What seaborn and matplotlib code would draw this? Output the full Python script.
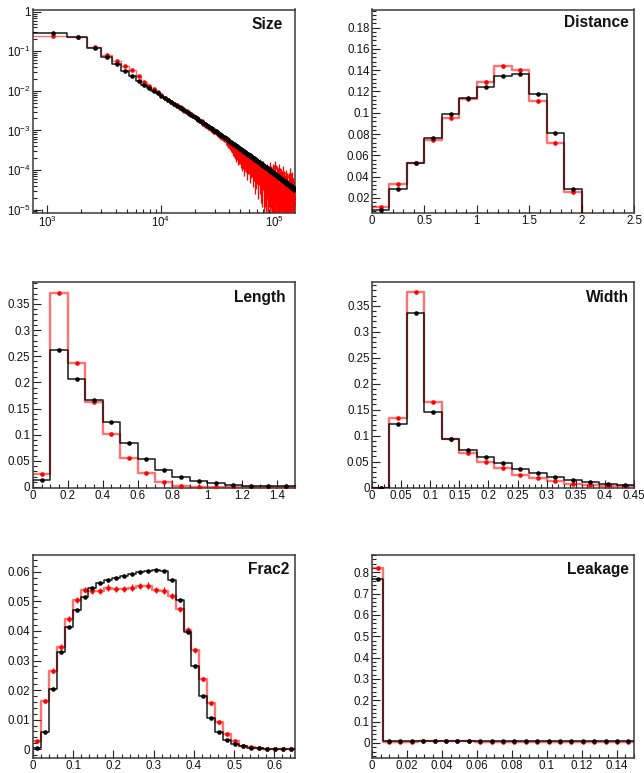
import numpy as np
import pandas as pd
import matplotlib
matplotlib.use("Agg")
import matplotlib.pyplot as plt
import matplotlib.ticker as mticker
import seaborn as sns

# ------------------------------------------------------------------
# DATA  (normalised bin contents)
# ------------------------------------------------------------------
# Size: 199 bins of width 750 starting at 750 (values in units of 1e-6)
SIZE_LOW, SIZE_BIN = 750.0, 750.0
size_black_ppm = [
    292000, 226000, 119000, 70500, 46900, 32400, 23500, 17700, 14300, 12000,
    10200, 8770, 7620, 6690, 5920, 5270, 4730, 4260, 3860, 3520,
    3210, 2950, 2720, 2510, 2320, 2160, 2010, 1880, 1750, 1640,
    1540, 1450, 1370, 1290, 1220, 1160, 1100, 1040, 990, 942,
    898, 856, 818, 781, 747, 716, 685, 657, 631, 606,
    582, 560, 539, 519, 501, 483, 466, 450, 435, 420,
    406, 393, 381, 368, 357, 346, 336, 326, 316, 307,
    298, 289, 281, 274, 266, 259, 252, 245, 239, 233,
    227, 221, 216, 210, 205, 200, 196, 191, 187, 182,
    178, 174, 170, 166, 163, 159, 156, 152, 149, 146,
    143, 140, 137, 134, 132, 129, 127, 124, 122, 119,
    117, 115, 113, 111, 109, 107, 105, 103, 101, 99.2,
    97.4, 95.7, 94.1, 92.5, 90.9, 89.4, 87.9, 86.4, 85.0, 83.6,
    82.2, 80.9, 79.6, 78.3, 77.0, 75.8, 74.6, 73.5, 72.4, 71.3,
    70.2, 69.1, 68.1, 67.1, 66.1, 65.1, 64.1, 63.2, 62.3, 61.4,
    60.5, 59.6, 58.8, 57.9, 57.1, 56.3, 55.6, 54.8, 54.1, 53.3,
    52.6, 51.9, 51.2, 50.5, 49.8, 49.2, 48.6, 47.9, 47.3, 46.7,
    46.1, 45.5, 44.9, 44.4, 43.8, 43.3, 42.7, 42.2, 41.7, 41.2,
    40.7, 40.2, 39.7, 39.3, 38.8, 38.3, 37.9, 37.4, 37.0, 36.6,
    36.2, 35.7, 35.3, 34.9, 34.5, 34.1, 33.8, 33.4, 33.0,
]
size_red_ppm = [
    250000, 225000, 126000, 82400, 58200, 43400, 33900, 24300, 17100, 13500,
    11200, 9300, 7700, 6750, 5850, 5380, 4650, 4330, 3790, 3580,
    3150, 3010, 2650, 2560, 2270, 2190, 1950, 1910, 1700, 1680,
    1490, 1470, 1310, 1330, 1170, 1150, 1040, 1070, 930, 960,
    850, 880, 760, 800, 690, 730, 610, 640, 560, 590,
    520, 450, 500, 400, 380, 430, 300, 370, 260, 330,
    230, 300, 200, 270, 210, 290, 170, 240, 150, 250,
    180, 120, 210, 140, 230, 100, 170, 130, 190, 90,
    150, 200, 110, 130, 75, 160, 95, 130, 60, 110,
    160, 70, 100, 130, 50, 85, 120, 60, 140, 45,
    90, 40, 110, 55, 75, 120, 35, 65, 95, 40,
    25, 80, 50, 100, 0, 60, 30, 85, 40, 55,
    20, 110, 0, 40, 75, 12, 50, 0, 95, 30,
    18, 65, 0, 40, 120, 10, 55, 0, 25, 80,
    15, 0, 45, 30, 100, 0, 20, 60, 12, 0,
    38, 70, 0, 15, 45, 25, 0, 85, 10, 30,
    0, 55, 18, 0, 40, 12, 65, 0, 22, 35,
    0, 14, 50, 0, 28, 10, 0, 45, 16, 0,
    30, 75, 0, 12, 25, 0, 40, 18, 0, 55,
    10, 0, 22, 35, 0, 15, 28, 0, 20,
]

DIST_RANGE = (0.0, 2.5)
dist_black = [0.0085, 0.0287, 0.0524, 0.0762, 0.0989, 0.1139, 0.1242, 0.1342,
              0.1364, 0.1180, 0.0812, 0.0281, 0.0, 0.0, 0.0]
dist_red = [0.0110, 0.0328, 0.0531, 0.0746, 0.0952, 0.1130, 0.1289, 0.1436,
            0.1400, 0.1110, 0.0718, 0.0256, 0.0, 0.0, 0.0]

LENGTH_RANGE = (0.0, 1.5)
length_black = [0.0134, 0.2628, 0.2066, 0.1665, 0.1250, 0.0848, 0.0529, 0.0319,
                0.0191, 0.0115, 0.0070, 0.0045, 0.0026, 0.0020, 0.0010]
length_red = [0.0255, 0.3710, 0.2366, 0.1620, 0.1014, 0.0561, 0.0274, 0.0102,
              0.0026, 0.0008, 0.0003, 0.0001, 0.0, 0.0, 0.0]

WIDTH_RANGE = (0.0, 0.45)
width_black = [0.0, 0.1223, 0.3363, 0.1449, 0.0938, 0.0724, 0.0582, 0.0466,
               0.0356, 0.0272, 0.0201, 0.0142, 0.0097, 0.0065, 0.0045]
width_red = [0.0, 0.1339, 0.3765, 0.1650, 0.0938, 0.0660, 0.0492, 0.0369,
             0.0246, 0.0175, 0.0116, 0.0071, 0.0052, 0.0032, 0.0020]

FRAC2_RANGE = (0.0, 0.65)
frac2_black = [0.0005, 0.0059, 0.0204, 0.0330, 0.0414, 0.0471, 0.0515, 0.0544,
               0.0561, 0.0574, 0.0581, 0.0587, 0.0593, 0.0599, 0.0602, 0.0608,
               0.0603, 0.0572, 0.0504, 0.0395, 0.0281, 0.0181, 0.0107, 0.0059,
               0.0031, 0.0017, 0.0009, 0.0005, 0.0003, 0.0002, 0.0001, 0.0001,
               0.0001]
frac2_red = [0.0028, 0.0163, 0.0266, 0.0347, 0.0440, 0.0504, 0.0538, 0.0536,
             0.0536, 0.0547, 0.0541, 0.0542, 0.0547, 0.0552, 0.0554, 0.0538,
             0.0537, 0.0519, 0.0473, 0.0405, 0.0335, 0.0237, 0.0155, 0.0091,
             0.0052, 0.0026, 0.0012, 0.0006, 0.0003, 0.0002, 0.0001, 0.0001,
             0.0]

LEAK_RANGE = (0.0, 0.15)
leak_black = [0.770, 0.0072, 0.0074, 0.0076, 0.0077, 0.0078, 0.0078, 0.0079,
              0.0078, 0.0078, 0.0077, 0.0077, 0.0076, 0.0076, 0.0075, 0.0075,
              0.0074, 0.0074, 0.0073, 0.0073, 0.0072, 0.0072, 0.0071]
leak_red = [0.818, 0.0066, 0.0068, 0.0069, 0.0070, 0.0070, 0.0071, 0.0070,
            0.0070, 0.0069, 0.0069, 0.0068, 0.0068, 0.0067, 0.0067, 0.0066,
            0.0066, 0.0065, 0.0065, 0.0064, 0.0064, 0.0063, 0.0063]

# effective event counts used for the Poisson error bars
N_BLACK = 1.0e6
N_RED = 5.0e4

# ------------------------------------------------------------------
# STYLE
# ------------------------------------------------------------------
sns.set_theme(style="ticks")
plt.rcParams["font.family"] = ["Liberation Sans", "DejaVu Sans"]
plt.rcParams["mathtext.fontset"] = "custom"
plt.rcParams["mathtext.rm"] = "Liberation Sans"
plt.rcParams["mathtext.it"] = "Liberation Sans:italic"
plt.rcParams["mathtext.bf"] = "Liberation Sans:bold"
plt.rcParams["axes.facecolor"] = "white"
plt.rcParams["figure.facecolor"] = "white"

W, H = 644.0, 773.0
fig = plt.figure(figsize=(W / 100, H / 100), dpi=100)

COL_LEFT = [33.0, 372.0]
COL_RIGHT = [294.5, 634.0]
ROW_TOP = [9.5, 281.5, 554.5]
ROW_BOT = [212.5, 487.5, 758.0]


def make_ax(r, c):
    x0 = COL_LEFT[c] / W
    w = (COL_RIGHT[c] - COL_LEFT[c]) / W
    y0 = 1 - ROW_BOT[r] / H
    h = (ROW_BOT[r] - ROW_TOP[r]) / H
    return fig.add_axes([x0, y0, w, h])


def lin_fmt(v, pos):
    v = round(v, 6)
    if abs(v) < 1e-9:
        return "0"
    return f"{v:g}"


def log_fmt(v, pos):
    e = int(round(np.log10(v)))
    return "1" if e == 0 else rf"$10^{{{e}}}$"


def draw_hists(ax, edges, black, red, logy=False, red_lw=1.7):
    edges = np.asarray(edges, float)
    centers = 0.5 * (edges[:-1] + edges[1:])
    series = [
        (np.asarray(red, float), "#ff0000", N_RED, red_lw, 0.55, 2),
        (np.asarray(black, float), "#000000", N_BLACK, 1.1, 0.9, 3),
    ]
    for vals, color, nev, lw, alpha, z in series:
        df = pd.DataFrame({"x": centers, "w": vals})
        sns.histplot(data=df, x="x", weights="w", bins=edges.tolist(),
                     element="step", fill=False, color=color, linewidth=lw,
                     alpha=alpha, ax=ax, zorder=z)
        err = np.sqrt(vals / nev)
        m = vals > 0 if logy else np.ones(len(vals), bool)
        ax.errorbar(centers[m], vals[m], yerr=err[m], fmt="o", ms=3.3,
                    color=color, ecolor=color, elinewidth=0.9, capsize=0,
                    mew=0, zorder=z + 0.5)


def style_ax(ax, title, tpos):
    for sp in ax.spines.values():
        sp.set_color("#3a3a3a")
        sp.set_linewidth(1.1)
    ax.tick_params(which="both", direction="in", top=False, right=False,
                   labelsize=8.3, width=0.8, color="#222222",
                   labelcolor="#111111")
    ax.tick_params(which="major", length=5.8)
    ax.tick_params(which="minor", length=2.9)
    ax.tick_params(axis="x", pad=1.5)
    ax.tick_params(axis="y", pad=1.8)
    ax.set_xlabel("")
    ax.set_ylabel("")
    ax.grid(False)
    ax.text(tpos[0], tpos[1], title, transform=ax.transAxes, ha="right",
            va="center", fontsize=11.2, fontweight="bold", color="#111111")


def linear_ticks(ax, xmaj, xmin, ymaj, ymin):
    ax.xaxis.set_major_locator(mticker.MultipleLocator(xmaj))
    ax.xaxis.set_minor_locator(mticker.MultipleLocator(xmin))
    ax.yaxis.set_major_locator(mticker.MultipleLocator(ymaj))
    ax.yaxis.set_minor_locator(mticker.MultipleLocator(ymin))
    ax.xaxis.set_major_formatter(mticker.FuncFormatter(lin_fmt))
    ax.yaxis.set_major_formatter(mticker.FuncFormatter(lin_fmt))


# ---------------- Size (log-log) ----------------
ax = make_ax(0, 0)
size_edges = SIZE_LOW + SIZE_BIN * np.arange(len(size_black_ppm) + 1)
assert len(size_black_ppm) == len(size_red_ppm)
draw_hists(ax, size_edges, np.asarray(size_black_ppm) * 1e-6,
           np.asarray(size_red_ppm) * 1e-6, logy=True, red_lw=1.0)
ax.set_xscale("log")
ax.set_yscale("log")
ax.set_xlim(750, 150000)
ax.set_ylim(8.4e-6, 1.14)
for axis in (ax.xaxis, ax.yaxis):
    axis.set_major_locator(mticker.LogLocator(base=10, numticks=30))
    axis.set_minor_locator(mticker.LogLocator(base=10, subs=np.arange(2, 10), numticks=30))
    axis.set_major_formatter(mticker.FuncFormatter(log_fmt))
    axis.set_minor_formatter(mticker.NullFormatter())
style_ax(ax, "Size", (0.955, 0.924))

# ---------------- Distance ----------------
ax = make_ax(0, 1)
draw_hists(ax, np.linspace(*DIST_RANGE, len(dist_black) + 1), dist_black, dist_red)
ax.set_xlim(*DIST_RANGE)
ax.set_ylim(0.0063, 0.197)
linear_ticks(ax, 0.5, 0.1, 0.02, 0.004)
style_ax(ax, "Distance", (0.980, 0.935))

# ---------------- Length ----------------
ax = make_ax(1, 0)
draw_hists(ax, np.linspace(*LENGTH_RANGE, len(length_black) + 1), length_black, length_red)
ax.set_xlim(*LENGTH_RANGE)
ax.set_ylim(-0.001, 0.393)
linear_ticks(ax, 0.2, 0.05, 0.05, 0.01)
style_ax(ax, "Length", (0.9675, 0.920))

# ---------------- Width ----------------
ax = make_ax(1, 1)
draw_hists(ax, np.linspace(*WIDTH_RANGE, len(width_black) + 1), width_black, width_red)
ax.set_xlim(*WIDTH_RANGE)
ax.set_ylim(0.0, 0.397)
linear_ticks(ax, 0.05, 0.01, 0.05, 0.01)
style_ax(ax, "Width", (0.982, 0.923))

# ---------------- Frac2 ----------------
ax = make_ax(2, 0)
draw_hists(ax, np.linspace(*FRAC2_RANGE, len(frac2_black) + 1), frac2_black, frac2_red)
ax.set_xlim(*FRAC2_RANGE)
ax.set_ylim(-0.003, 0.0659)
linear_ticks(ax, 0.1, 0.02, 0.01, 0.002)
style_ax(ax, "Frac2", (0.980, 0.927))

# ---------------- Leakage ----------------
ax = make_ax(2, 1)
draw_hists(ax, np.linspace(*LEAK_RANGE, len(leak_black) + 1), leak_black, leak_red)
ax.set_xlim(*LEAK_RANGE)
ax.set_ylim(-0.0703, 0.883)
linear_ticks(ax, 0.02, 0.005, 0.1, 0.02)
style_ax(ax, "Leakage", (0.982, 0.927))

fig.savefig("out.png", dpi=100)
